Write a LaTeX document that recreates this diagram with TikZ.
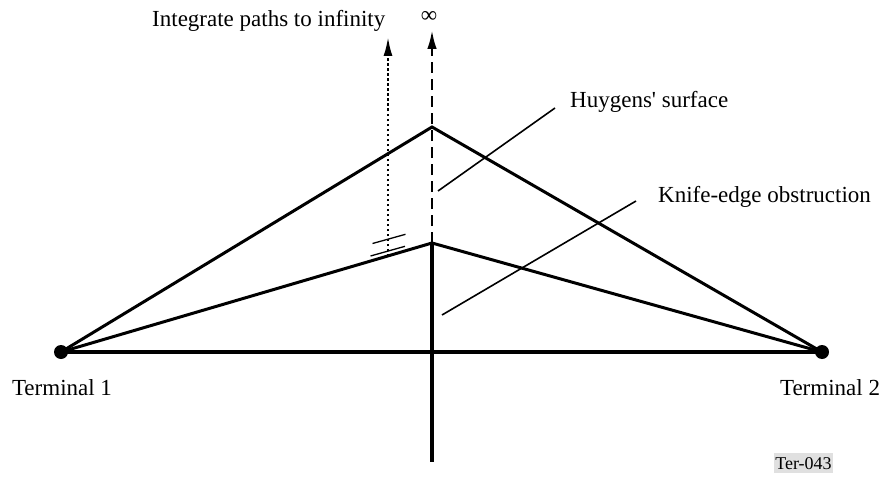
\documentclass[tikz,border=0pt]{standalone}
\usepackage{fontspec}
\setmainfont{Liberation Serif}
\usetikzlibrary{arrows.meta}
\newcommand{\straightquote}{\XeTeXglyph\XeTeXcharglyph"27\relax}
\begin{document}
\begin{tikzpicture}[x=1pt,y=-1pt,
  thickline/.style={line width=3pt,line cap=round,line join=miter},
  baseline/.style={line width=4pt},
  leader/.style={line width=1.6pt},
  breakmark/.style={line width=1.3pt},
  dashedarrow/.style={line width=2.5pt,dash pattern=on 11pt off 6pt,-{Latex[length=19pt,width=9.5pt]}},
  dottedarrow/.style={line width=2.2pt,dash pattern=on 2.5pt off 2.5pt,-{Latex[length=19pt,width=9pt]}},
  dotnode/.style={circle,fill=black,inner sep=0pt,minimum size=14pt},
  lbl/.style={inner sep=0pt,font=\fontsize{23}{27}\selectfont},
  tag/.style={fill=black!12,inner xsep=1.5pt,inner ysep=0pt,minimum height=20pt,text height=13pt,text depth=1pt,font=\fontsize{18}{20}\selectfont}
]
\useasboundingbox (0,0) rectangle (885,476);
% key points
\coordinate (T1) at (61,352);
\coordinate (T2) at (822,352);
\coordinate (H) at (432,127);
\coordinate (K) at (432,243);
\coordinate (B) at (432,462);
\coordinate (InfTip) at (432,30);
\coordinate (DotStart) at (388,256);
\coordinate (DotTip) at (388,37);
\coordinate (m1a) at (372.5,243.5);
\coordinate (m1b) at (405.5,234.3);
\coordinate (m2a) at (370.5,256);
\coordinate (m2b) at (405,246.3);
\coordinate (hl1) at (438,191);
\coordinate (hl2) at (555,108);
\coordinate (kl1) at (442,315);
\coordinate (kl2) at (636,201);

% triangles and baseline
\draw[thickline] (T1) -- (H) -- (T2);
\draw[thickline] (T1) -- (K) -- (T2);
\draw[baseline] (T1) -- (T2);
\draw[baseline] (K) -- (B);

% arrows to infinity
\draw[dashedarrow] (K) -- (InfTip);
\draw[dottedarrow] (DotStart) -- (DotTip);

% break marks
\draw[breakmark] (m1a) -- (m1b);
\draw[breakmark] (m2a) -- (m2b);

% leader lines
\draw[leader] (hl1) -- (hl2);
\draw[leader] (kl1) -- (kl2);

% terminal dots
\node[dotnode] (d1) at (T1) {};
\node[dotnode] (d2) at (T2) {};

% labels
\node[lbl,anchor=base west] (integ) at (152,27) {Integrate paths to infinity};
\node[lbl] (inf) at (429,17) {∞};
\node[lbl,anchor=base west] (huy) at (570,107) {Huygens\straightquote\ surface};
\node[lbl,anchor=base west] (knife) at (658,202) {Knife-edge obstruction};
\node[lbl,anchor=base] (t1) at (62,395) {Terminal 1};
\node[lbl,anchor=base] (t2) at (830,395) {Terminal 2};
\node[tag] (ter) at (803.5,463) {Ter-043};
\end{tikzpicture}
\end{document}
